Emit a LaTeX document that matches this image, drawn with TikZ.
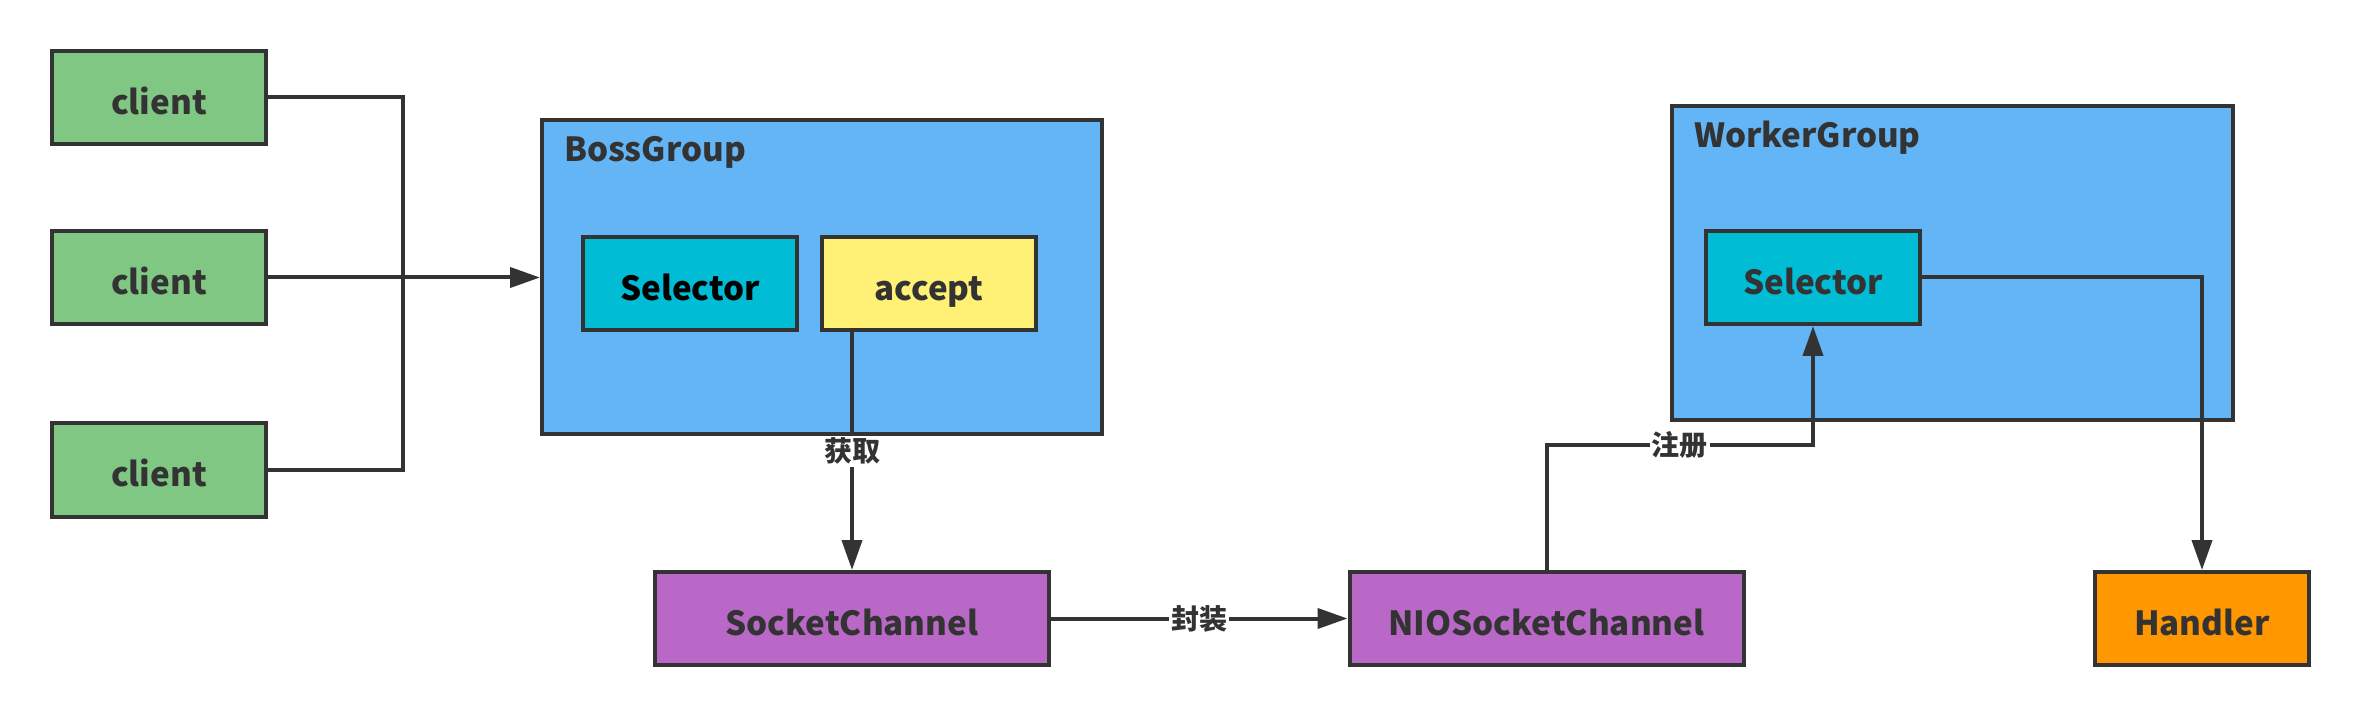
\documentclass[tikz,border=0pt]{standalone}
\usepackage{fontspec}
\setmainfont{Noto Sans CJK SC}
\usetikzlibrary{arrows.meta}
\definecolor{linegray}{HTML}{333333}
\definecolor{clientgreen}{HTML}{81C784}
\definecolor{groupblue}{HTML}{64B5F6}
\definecolor{selcyan}{HTML}{00BCD4}
\definecolor{accyellow}{HTML}{FFF176}
\definecolor{chanpurple}{HTML}{BA68C8}
\definecolor{handorange}{HTML}{FF9800}
\tikzset{every picture/.style={line width=2pt}}
\tikzset{
  box/.style={draw=linegray, line width=2pt, inner sep=0pt, text=linegray,
    minimum width=107pt, minimum height=46.5pt, text height=17pt, text depth=0pt,
    font=\bfseries\fontsize{16.6}{20}\selectfont},
  wide/.style={box, minimum width=197pt},
  group/.style={draw=linegray, line width=2pt, fill=groupblue, inner sep=0pt},
  title/.style={anchor=west, inner sep=0pt, text=linegray, text height=17pt, text depth=0pt,
    font=\bfseries\fontsize{16.6}{20}\selectfont},
  link/.style={draw=linegray, line width=2pt},
  arr/.style={link, -{Triangle[length=15pt,width=10pt]}},
  tag/.style={fill=white, inner sep=1pt, text=linegray, font=\bfseries\fontsize{14}{16}\selectfont}
}

\begin{document}
\begin{tikzpicture}[x=0.5pt,y=0.5pt,yscale=-1,xscale=1]
\useasboundingbox (0,0) rectangle (2361,716);
\node [box, fill=clientgreen] (client1) at (159,97.5) {client};
\node [box, fill=clientgreen] (client2) at (159,277.5) {client};
\node [box, fill=clientgreen] (client3) at (159,470) {client};

\node [group, minimum width=280pt, minimum height=157pt] (boss) at (822,277) {};
\node [title] (bosstitle) at ([shift={(22,27)}]boss.north west) {BossGroup};
\node [box, fill=selcyan, text=black] (bosssel) at (690,284) {Selector};
\node [box, fill=accyellow] (accept) at (929,284) {accept};

\node [wide, fill=chanpurple] (sock) at (852,618.5) {SocketChannel};
\node [wide, fill=chanpurple] (nio) at (1546.5,618.5) {NIOSocketChannel};

\node [group, minimum width=280.5pt, minimum height=157pt] (worker) at (1952.5,263) {};
\node [title] (workertitle) at ([shift={(22,27)}]worker.north west) {WorkerGroup};
\node [box, fill=selcyan] (workersel) at (1813,277.5) {Selector};

\node [box, fill=handorange] (handler) at (2202,618.5) {Handler};

\coordinate (bus) at (403,277.5);
\draw [link] (client1.east) -| (bus);
\draw [link] (client3.east) -| (bus);
\draw [arr] (client2.east) -- (boss.west |- client2);
\draw [arr] (sock.north |- accept.south) -- node [tag] {获取} (sock.north);
\draw [arr] (sock.east) -- node [tag] {封装} (nio.west);
\draw [arr] (nio.north) -- (nio.north |- 0,445) -| node [tag, pos=0.25] {注册} (workersel.south);
\draw [arr] (workersel.east) -| (handler.north);
\end{tikzpicture}
\end{document}
